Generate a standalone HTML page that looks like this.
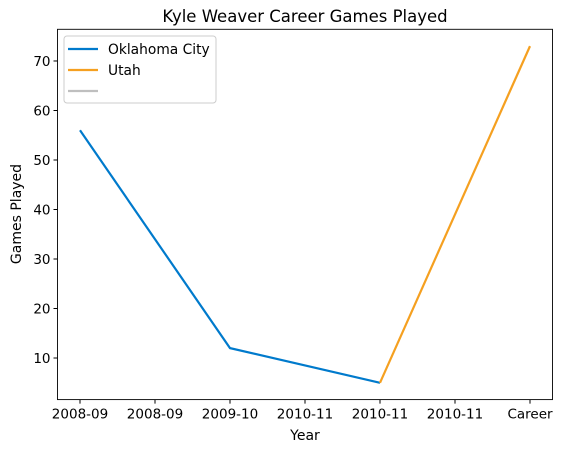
<!DOCTYPE html>
<html><head><meta charset="utf-8"><style>
body{margin:0;background:#fff;font-family:"Liberation Sans","DejaVu Sans",sans-serif}
svg text{font-family:"DejaVu Sans","Liberation Sans",sans-serif}
</style></head><body>
<svg id="chart" width="566" height="453" xmlns="http://www.w3.org/2000/svg">
<rect width="566" height="453" fill="#fff"/>
<text x="305" y="22" font-size="16.5" text-anchor="middle">Kyle Weaver Career Games Played</text>
<g id="plot"></g>
<text x="305" y="440" font-size="14" text-anchor="middle">Year</text>
<text transform="translate(21,214) rotate(-90)" font-size="14" text-anchor="middle">Games Played</text>
<g>
<rect x="64" y="36" width="152" height="67" rx="3" fill="#fff" fill-opacity="0.8" stroke="#ccc"/>
<line x1="68" y1="49" x2="98" y2="49" stroke="#007acc" stroke-width="2.2"/>
<text x="108" y="54" font-size="13.8">Oklahoma City</text>
<line x1="68" y1="70" x2="98" y2="70" stroke="#f5a020" stroke-width="2.2"/>
<text x="108" y="75" font-size="13.8">Utah</text>
<line x1="68" y1="91" x2="98" y2="91" stroke="#bfbfbf" stroke-width="2.2"/>
</g>
</svg>
<script>
const categories=["2008-09","2008-09","2009-10","2010-11","2010-11","2010-11","Career"];
const okcIdx=[0,2,4];
const okcVals=[56,12,5];
const utahIdx=[4,6];
const utahVals=[5,73];
const yTicks=[10,20,30,40,50,60,70];
const L=57.5,R=552.5,T=29.3,B=399.6,ymin=1.6,ymax=76.4;
const X=i=>L+(R-L)*(i+0.3)/6.6;
const y=v=>B-(v-ymin)/(ymax-ymin)*(B-T);
const ns="http://www.w3.org/2000/svg",g=document.getElementById('plot');
function mk(t,a){const e=document.createElementNS(ns,t);for(const k in a)e.setAttribute(k,a[k]);g.appendChild(e);return e;}
categories.forEach((c,i)=>{
 const t=mk('line',{x1:X(i),x2:X(i),y1:B,y2:B+4,stroke:'#000'});
 
 
 const l=mk('text',{x:X(i),y:B+19,'font-size':13.5,'text-anchor':'middle'});l.textContent=c;
 
 
});
yTicks.forEach(v=>{
 const t=mk('line',{x1:L-4,x2:L,y1:y(v),y2:y(v),stroke:'#000'});
 
 
 const l=mk('text',{x:L-7,y:y(v)+5,'font-size':13.5,'text-anchor':'end'});l.textContent=v;
 
 
});
function line(idx,vals,col,name){
 const p=mk('polyline',{points:idx.map((i,k)=>X(i)+','+y(vals[k])).join(' '),fill:'none',stroke:col,'stroke-width':2.2});
 
 
}
line(okcIdx,okcVals,'#007acc','oklahoma-city-line');
line(utahIdx,utahVals,'#f5a020','utah-line');
const fr=mk('rect',{x:L,y:T,width:R-L,height:B-T,fill:'none',stroke:'#000','stroke-width':0.9});


</script>
</body></html>
